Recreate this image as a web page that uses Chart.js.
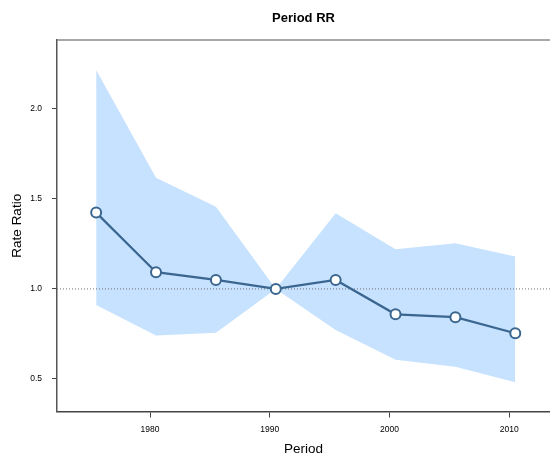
<!DOCTYPE html>
<html>
<head>
<meta charset="utf-8">
<script src="https://cdn.jsdelivr.net/npm/chart.js@4"></script>
<style>
  body { margin: 0; background: #fff; }
  canvas { display: block; }
</style>
</head>
<body>
<canvas id="rrChart" width="550" height="460"></canvas>
<script>
const periods = [1975.5, 1980.5, 1985.5, 1990.5, 1995.5, 2000.5, 2005.5, 2010.5];
const rateRatio = [1.424, 1.093, 1.05, 1.0, 1.05, 0.859, 0.843, 0.754];
const upperCI = [2.217, 1.618, 1.457, 1.0, 1.42, 1.22, 1.254, 1.18];
const lowerCI = [0.911, 0.741, 0.757, 1.0, 0.772, 0.606, 0.568, 0.482];
const xTicks = [1980, 1990, 2000, 2010];
const yTicks = [0.5, 1.0, 1.5, 2.0];

const xMin = 1972.23, xMax = 2013.4;
const yMin = 0.319, yMax = 2.383;

const pts = (ys) => periods.map((x, i) => ({ x: x, y: ys[i] }));

// top border of the plot frame
const framePlugin = {
  id: "frame",
  afterDraw(chart) {
    const { ctx, chartArea } = chart;
    ctx.save();
    ctx.strokeStyle = "#8a8a8a";
    ctx.lineWidth = 1.5;
    ctx.beginPath();
    ctx.moveTo(chartArea.left, chartArea.top);
    ctx.lineTo(chartArea.right, chartArea.top);
    ctx.stroke();
    ctx.restore();
  },
};

const ctx = document.getElementById("rrChart");
const rrChart = new Chart(ctx, {
  type: "line",
  data: {
    datasets: [
      {
        label: "Rate Ratio",
        data: pts(rateRatio),
        borderColor: "#3a6690",
        borderWidth: 2.2,
        pointRadius: 5,
        pointBorderWidth: 2,
        pointBackgroundColor: "#ffffff",
        pointBorderColor: "#3a6690",
        fill: false,
      },
      {
        label: "ref",
        data: [{ x: xMin, y: 1 }, { x: xMax, y: 1 }],
        borderColor: "#707070",
        borderWidth: 1,
        borderDash: [1, 2],
        pointRadius: 0,
        fill: false,
      },
      {
        label: "upper",
        data: pts(upperCI),
        borderWidth: 0,
        borderColor: "rgba(0,0,0,0)",
        backgroundColor: "#c6e2ff",
        pointRadius: 0,
        fill: "+1",
      },
      {
        label: "lower",
        data: pts(lowerCI),
        borderWidth: 0,
        borderColor: "rgba(0,0,0,0)",
        pointRadius: 0,
        fill: false,
      },
    ],
  },
  options: {
    responsive: false,
    animation: false,
    layout: { autoPadding: false, padding: 0 },
    plugins: {
      legend: { display: false },
      tooltip: { enabled: false },
      title: {
        display: true,
        fullSize: false,
        text: "Period RR",
        color: "#000",
        font: { family: "Liberation Sans", size: 13, weight: "bold", lineHeight: 1.2 },
        padding: { top: 11, bottom: 13.4 },
      },
    },
    scales: {
      x: {
        type: "linear",
        min: xMin,
        max: xMax,
        afterFit(scale) { scale.height = 48.5; },
        afterBuildTicks(scale) { scale.ticks = xTicks.map((v) => ({ value: v })); },
        ticks: {
          color: "#000",
          font: { family: "Liberation Sans", size: 8.5 },
          padding: 7,
          maxRotation: 0,
          callback: (v) => String(v),
        },
        grid: { drawOnChartArea: false, tickLength: 6, color: "#444" },
        border: { display: true, color: "#444", width: 1.5 },
        title: {
          display: true,
          text: "Period",
          color: "#000",
          font: { family: "Liberation Sans", size: 13.5 },
          padding: { top: 0, bottom: 3 },
        },
      },
      y: {
        min: yMin,
        max: yMax,
        afterFit(scale) { scale.width = 57; },
        afterBuildTicks(scale) { scale.ticks = yTicks.map((v) => ({ value: v })); },
        ticks: {
          color: "#000",
          font: { family: "Liberation Sans", size: 8.5 },
          padding: 10,
          callback: (v) => Number(v).toFixed(1),
        },
        grid: { drawOnChartArea: false, tickLength: 5, color: "#444" },
        border: { display: true, color: "#555", width: 1.5 },
        title: {
          display: true,
          text: "Rate Ratio",
          color: "#000",
          font: { family: "Liberation Sans", size: 13.5 },
          padding: { top: 9, bottom: 0 },
        },
      },
    },
  },
  plugins: [framePlugin],
});
</script>
</body>
</html>
